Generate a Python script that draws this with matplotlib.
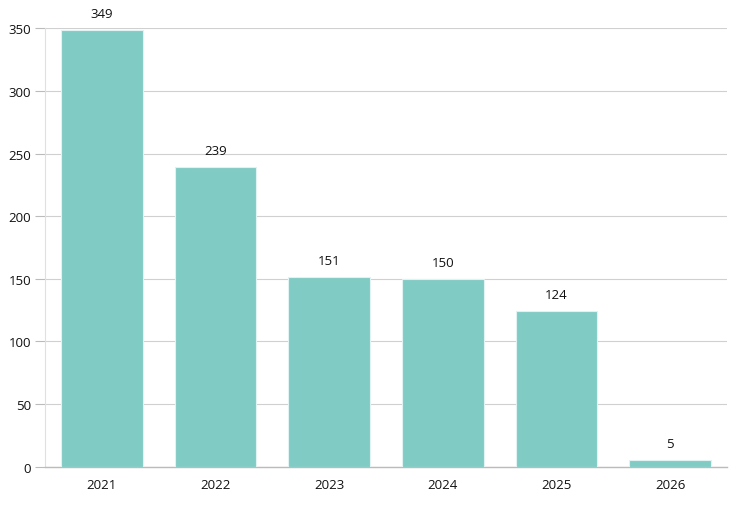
import matplotlib.pyplot as plt

years = ['2021', '2022', '2023', '2024', '2025', '2026']
counts = [349, 239, 151, 150, 124, 5]
yticks = [0, 50, 100, 150, 200, 250, 300, 350]

plt.rcParams['font.family'] = ['Open Sans', 'DejaVu Sans']

fig = plt.figure(figsize=(7.38, 5.06), dpi=100)
ax = fig.add_axes([0.061, 0.076, 0.924, 0.866])

x = range(len(years))
bars = ax.bar(x, counts, width=0.72, color='#80cbc4', edgecolor='#e0f2f1', linewidth=0.8, zorder=3)

for xi, v in zip(x, counts):
    ax.text(xi, v + 8, str(v), ha='center', va='bottom', fontsize=9.5, color='#111111')

ax.set_xlim(-0.5, len(years) - 0.5)
ax.set_ylim(0, 350)
ax.set_yticks(yticks)
ax.set_xticks(list(x))
ax.set_xticklabels(years)
ax.grid(axis='y', color='#d0d0d0', linewidth=0.8, zorder=0)
ax.tick_params(axis='y', length=7, color='#bbbbbb', labelsize=9.5, labelcolor='#111111', pad=3)
ax.tick_params(axis='x', length=0, labelsize=9.5, labelcolor='#111111', pad=8)

for s in ['top', 'right']:
    ax.spines[s].set_visible(False)
ax.spines['left'].set_color('#e0e0e0')
ax.spines['bottom'].set_color('#bbbbbb')
ax.spines['left'].set_linewidth(0.8)
ax.spines['bottom'].set_linewidth(1)

fig.savefig('out.png', dpi=100)
